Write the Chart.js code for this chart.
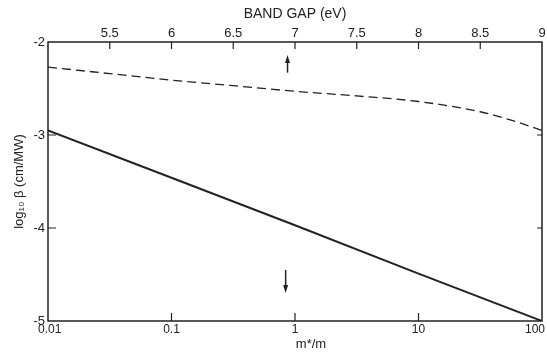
<!DOCTYPE html>
<html>
<head>
<meta charset="utf-8">
<script src="https://cdn.jsdelivr.net/npm/chart.js@4.4.1/dist/chart.umd.min.js"></script>
<style>
  html, body { margin: 0; padding: 0; background: #fff; }
  #box { width: 547px; height: 352px; }
</style>
</head>
<body>
<div id="box"><canvas id="betaChart" width="547" height="352"></canvas></div>
<script>
// effective mass axis (bottom, log)
var massTicks = [0.01, 0.1, 1, 10, 100];
var massTickLabels = ['0.01', '0.1', '1', '10', '100'];
var solidBeta = [-2.95, -3.46, -3.97, -4.49, -5.0];

// band gap axis (top, eV)
var gapEV = [5.0, 5.5, 6.0, 6.5, 7.0, 7.5, 8.0, 8.5, 8.75, 9.0];
var dashedBeta = [-2.27, -2.34, -2.41, -2.47, -2.53, -2.58, -2.64, -2.75, -2.84, -2.95];

var betaTicks = [-2, -3, -4, -5];

// arrows near m*/m ~ 1
var arrowMass = [0.87, 0.84];
var arrowFrom = [-2.33, -4.45];
var arrowTo = [-2.14, -4.70];

var ink = '#222';
var fontName = '"Liberation Sans", Arial, sans-serif';

var ctx = document.getElementById('betaChart');

var framePlugin = {
    id: 'frame',
    afterDatasetsDraw: function (chart) {
        var c = chart.ctx, a = chart.chartArea;
        var sx = chart.scales.x, sx2 = chart.scales.x2, sy = chart.scales.y;
        c.save();
        c.strokeStyle = ink;
        c.lineWidth = 1.5;
        c.strokeRect(a.left, a.top, a.right - a.left, a.bottom - a.top);

        c.lineWidth = 1.2;
        c.beginPath();
        // inward ticks, bottom
        massTicks.slice(1, -1).forEach(function (v) {
            var px = sx.getPixelForValue(v);
            c.moveTo(px, a.bottom); c.lineTo(px, a.bottom - 8);
        });
        // inward ticks, top
        for (var e = 5.5; e < 9; e += 0.5) {
            var px = sx2.getPixelForValue(e);
            c.moveTo(px, a.top); c.lineTo(px, a.top + 7);
        }
        // inward ticks, left and right
        betaTicks.slice(1, -1).forEach(function (v) {
            var py = sy.getPixelForValue(v);
            c.moveTo(a.left, py); c.lineTo(a.left + 8, py);
            c.moveTo(a.right, py); c.lineTo(a.right - 5, py);
        });
        c.stroke();

        // arrows
        c.fillStyle = ink;
        c.lineWidth = 1.5;
        for (var i = 0; i < arrowMass.length; i++) {
            var ax = sx.getPixelForValue(arrowMass[i]);
            var y0 = sy.getPixelForValue(arrowFrom[i]);
            var y1 = sy.getPixelForValue(arrowTo[i]);
            var dir = y1 > y0 ? 1 : -1;
            c.beginPath();
            c.moveTo(ax, y0); c.lineTo(ax, y1 - dir * 6);
            c.stroke();
            c.beginPath();
            c.moveTo(ax, y1);
            c.lineTo(ax - 2.5, y1 - dir * 8);
            c.lineTo(ax + 2.5, y1 - dir * 8);
            c.closePath();
            c.fill();
        }

        // bottom tick labels, end labels kept inside the canvas
        c.font = '12px ' + fontName;
        c.textAlign = 'center';
        c.textBaseline = 'middle';
        massTicks.forEach(function (v, i) {
            var txt = massTickLabels[i];
            var w = c.measureText(txt).width;
            var px = sx.getPixelForValue(v);
            px = Math.max(px, 38 + w / 2);
            px = Math.min(px, chart.width - 2 - w / 2);
            c.fillText(txt, px, a.bottom + 9);
        });

        // bottom axis title
        c.font = '13px ' + fontName;
        c.fillText('m*/m', (a.left + a.right) / 2 + 16, a.bottom + 23);
        c.restore();
    }
};

var betaChart = new Chart(ctx, {
    type: 'line',
    data: {
        datasets: [{
            label: 'solid',
            data: massTicks.map(function (m, i) { return {x: m, y: solidBeta[i]}; }),
            xAxisID: 'x',
            borderColor: ink,
            borderWidth: 2,
            pointRadius: 0,
            tension: 0
        }, {
            label: 'dashed',
            data: gapEV.map(function (g, i) { return {x: g, y: dashedBeta[i]}; }),
            xAxisID: 'x2',
            borderColor: ink,
            borderWidth: 1.3,
            borderDash: [9, 5],
            pointRadius: 0,
            cubicInterpolationMode: 'monotone'
        }]
    },
    options: {
        responsive: false,
        animation: false,
        devicePixelRatio: 1,
        layout: { padding: { left: 0, right: 5, top: 0, bottom: 0 } },
        plugins: {
            legend: { display: false },
            tooltip: { enabled: false }
        },
        scales: {
            x: {
                type: 'logarithmic',
                position: 'bottom',
                min: 0.01,
                max: 100,
                grid: { display: false, drawTicks: false },
                border: { display: false },
                afterBuildTicks: function (s) {
                    s.ticks = massTicks.map(function (v) { return {value: v}; });
                },
                afterFit: function (s) {
                    s.height = 31;
                    s.paddingLeft = 0;
                    s.paddingRight = 0;
                },
                ticks: { display: false }
            },
            x2: {
                type: 'linear',
                position: 'top',
                min: 5,
                max: 9,
                grid: { display: false, drawTicks: false },
                border: { display: false },
                afterFit: function (s) {
                    s.height = 42;
                    s.paddingLeft = 0;
                    s.paddingRight = 0;
                },
                ticks: {
                    stepSize: 0.5,
                    autoSkip: false,
                    maxRotation: 0,
                    padding: 1,
                    color: ink,
                    font: { family: fontName, size: 13 },
                    callback: function (v) { return v === 5 ? '' : String(v); }
                },
                title: {
                    display: true,
                    text: 'BAND GAP (eV)',
                    color: ink,
                    font: { family: fontName, size: 14 },
                    padding: { top: 6, bottom: 0 }
                }
            },
            y: {
                type: 'linear',
                position: 'left',
                min: -5,
                max: -2,
                grid: { display: false, drawTicks: false },
                border: { display: false },
                afterFit: function (s) { s.width = 48; },
                ticks: {
                    stepSize: 1,
                    padding: 3,
                    color: ink,
                    font: { family: fontName, size: 13 },
                    callback: function (v) { return String(v); }
                },
                title: {
                    display: true,
                    text: 'log\u2081\u2080 \u03B2 (cm/MW)',
                    color: ink,
                    font: { family: fontName, size: 13 },
                    padding: { top: 12, bottom: 0 }
                }
            }
        }
    },
    plugins: [framePlugin]
});
</script>
</body>
</html>
